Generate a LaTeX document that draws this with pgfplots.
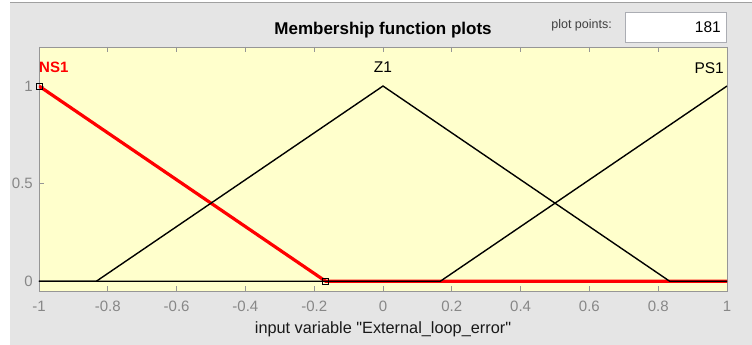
\documentclass[border=0pt]{standalone}
\usepackage{pgfplots}
\pgfplotsset{compat=1.18}
\usepackage{fontspec}
\setmainfont{Liberation Sans}
% straight quotes in the axis label
\newfontfamily\labelfont{Liberation Sans}[Ligatures=TeXOff]

\definecolor{panelgray}{RGB}{229,229,229}
\definecolor{edgegray}{RGB}{160,160,160}
\definecolor{mfyellow}{RGB}{255,255,204}
\definecolor{boxgray}{RGB}{150,150,150}
\definecolor{ticktext}{RGB}{135,135,135}
\definecolor{fieldedge}{RGB}{171,173,179}

% membership functions of the input variable
\pgfplotstableread{
x y
-1 1
-0.1667 0
1 0
}\nsone
\pgfplotstableread{
x y
-1 0
-0.8333 0
0 1
0.8333 0
1 0
}\zone
\pgfplotstableread{
x y
-1 0
0.1667 0
1 1
}\psone

\begin{document}
\begin{tikzpicture}[x=1pt,y=1pt]
\path[use as bounding box] (0,0) rectangle (752,345);
% panel
\fill[white] (0,0) rectangle (752,345);
\fill[panelgray] (10,0) rectangle (752,342);
\draw[edgegray, line width=1pt] (10,342) -- (752,342);

% plot points field
\node[anchor=base east, inner sep=0, text=black!75,
      font=\fontsize{12.5}{14}\selectfont] at (612,316) {plot points:};
\draw[fieldedge, fill=white, line width=0.8pt] (625,303) rectangle (726,333);
\node[anchor=base east, inner sep=0,
      font=\fontsize{15.5}{18}\selectfont] at (721,312) {181};

\begin{axis}[
  at={(39pt,54pt)}, anchor=south west,
  scale only axis, width=688pt, height=244pt,
  xmin=-1, xmax=1, ymin=-0.05, ymax=1.2,
  xtick={-1,-0.8,...,1.01}, ytick={0,0.5,1},
  xticklabels={-1,-0.8,-0.6,-0.4,-0.2,0,0.2,0.4,0.6,0.8,1},
  yticklabels={0,0.5,1},
  axis background/.style={fill=mfyellow},
  axis line style={draw=boxgray, line width=0.8pt},
  tick align=inside, xtick pos=both, ytick pos=left,
  xticklabel pos=bottom,
  major tick length=5pt,
  tick style={draw=boxgray, line width=0.8pt},
  ticklabel style={text=ticktext, font=\fontsize{15}{18}\selectfont},
  xticklabel style={anchor=base, yshift=-20pt, inner sep=0pt},
  yticklabel style={anchor=east, inner sep=0pt, xshift=-6pt},
  /pgf/number format/assume math mode=true,
  title={Membership function plots},
  title style={at={(0.5,1)}, anchor=base, yshift=6pt, inner sep=0pt,
               font=\fontsize{17}{20}\selectfont\bfseries},
  xlabel={input variable "External\_loop\_error"},
  xlabel style={at={(0.5,0)}, anchor=base, yshift=-42pt, inner sep=0pt,
                font=\labelfont\fontsize{16.3}{19}\selectfont, text=black!90},
  clip=true,
]
\addplot[red, line width=3.2pt] table {\nsone};
\addplot[black, line width=1.4pt] table {\zone};
\addplot[black, line width=1.4pt] table {\psone};
\addplot[only marks, mark=square, mark size=3pt,
         mark options={draw=black, line width=0.7pt}] coordinates {(-1,1) (-0.1667,0)};
\node[anchor=west, inner sep=0, text=red,
      font=\fontsize{15}{18}\selectfont\bfseries] at (axis cs:-1,1.097) {NS1};
\node[inner sep=0, font=\fontsize{15.5}{18}\selectfont] at (axis cs:0,1.097) {Z1};
\node[anchor=east, inner sep=0, xshift=-3pt,
      font=\fontsize{15.5}{18}\selectfont] at (axis cs:1,1.09) {PS1};
\end{axis}
\end{tikzpicture}
\end{document}
